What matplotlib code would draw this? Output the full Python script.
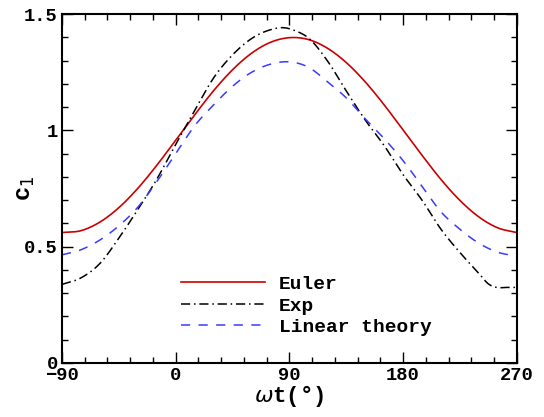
import numpy as np
import matplotlib
matplotlib.use('Agg')
import matplotlib.pyplot as plt

# phase angle (deg) and lift coefficient
wt = [-90, -75, -60, -45, -30, -15, 0, 15, 30, 45, 60, 75, 90,
      105, 120, 135, 150, 165, 180, 195, 210, 225, 240, 255, 270]

euler = [0.561, 0.569, 0.606, 0.668, 0.751, 0.850, 0.958, 1.067, 1.171,
         1.261, 1.332, 1.379, 1.399, 1.391, 1.354, 1.292, 1.209, 1.110,
         1.002, 0.893, 0.789, 0.699, 0.628, 0.581, 0.561]

exp_wt = [-90, -75, -60, -45, -30, -15, 0, 15, 30, 45, 60, 75, 85, 95,
          105, 120, 135, 150, 165, 180, 195, 210, 225, 240, 248, 254, 262, 270]
exp_c1 = [0.338, 0.366, 0.428, 0.537, 0.660, 0.790, 0.940, 1.085, 1.226,
          1.325, 1.395, 1.433, 1.442, 1.428, 1.398, 1.300, 1.170, 1.045,
          0.935, 0.810, 0.700, 0.575, 0.475, 0.385, 0.338, 0.325, 0.325, 0.325]

linear = [0.465, 0.487, 0.529, 0.590, 0.670, 0.780, 0.900, 1.020, 1.110,
          1.190, 1.250, 1.285, 1.295, 1.272, 1.210, 1.140, 1.050, 0.965,
          0.870, 0.760, 0.650, 0.575, 0.515, 0.476, 0.460]

font = 'Liberation Mono'


def curve(x, y, n=721):
    # cubic hermite through the read points (catmull-rom slopes)
    x = np.asarray(x, float)
    y = np.asarray(y, float)
    m = np.gradient(y, x)
    xs = np.linspace(x[0], x[-1], n)
    i = np.clip(np.searchsorted(x, xs) - 1, 0, len(x) - 2)
    h = x[i + 1] - x[i]
    t = (xs - x[i]) / h
    h00 = 2 * t**3 - 3 * t**2 + 1
    h10 = t**3 - 2 * t**2 + t
    h01 = -2 * t**3 + 3 * t**2
    h11 = t**3 - t**2
    return xs, h00 * y[i] + h10 * h * m[i] + h01 * y[i + 1] + h11 * h * m[i + 1]


fig = plt.figure(figsize=(5.44, 4.17), dpi=100)
ax = fig.add_axes([0.114, 0.1295, 0.836, 0.8365])

xs, ys = curve(wt, euler)
ax.plot(xs, ys, color='#cc0000', lw=1.2, label='Euler')
xs, ys = curve(exp_wt, exp_c1)
ax.plot(xs, ys, color='black', lw=1.1, dashes=(6, 2.5, 1, 2.5), label='Exp')
xs, ys = curve(wt, linear)
ax.plot(xs, ys, color='#3a3aff', lw=1.1, dashes=(6, 5.5), label='Linear theory')

ax.set_xlim(-90, 270)
ax.set_ylim(0, 1.5)
ax.set_xticks([-90, 0, 90, 180, 270])
ax.set_xticks(np.arange(-90, 271, 18), minor=True)
ax.set_yticks([0, 0.5, 1, 1.5])
ax.set_yticklabels(['0', '0.5', '1', '1.5'])
ax.set_yticks(np.arange(0, 1.51, 0.1), minor=True)

ax.tick_params(which='both', direction='in', top=True, right=True, width=1.0)
ax.tick_params(which='major', length=8, pad=3)
ax.tick_params(which='minor', length=4)
for lab in ax.get_xticklabels() + ax.get_yticklabels():
    lab.set_fontfamily(font)
    lab.set_fontweight('bold')
    lab.set_fontsize(13.5)
for s in ax.spines.values():
    s.set_linewidth(1.5)

ax.set_xlabel(r'$\omega$t(°)', fontsize=16, fontfamily=font, fontweight='bold', labelpad=-1)
ax.set_ylabel(r'c$_1$', fontsize=17, fontfamily=font, fontweight='bold')
ax.yaxis.set_label_coords(-0.055, 0.5)

ax.legend(loc='lower left', bbox_to_anchor=(0.2615, 0.077), frameon=False,
          borderaxespad=0, borderpad=0, handlelength=4.3, handletextpad=0.75,
          labelspacing=0.2, prop={'family': font, 'weight': 'bold', 'size': 14})

fig.savefig('out.png', dpi=100)
